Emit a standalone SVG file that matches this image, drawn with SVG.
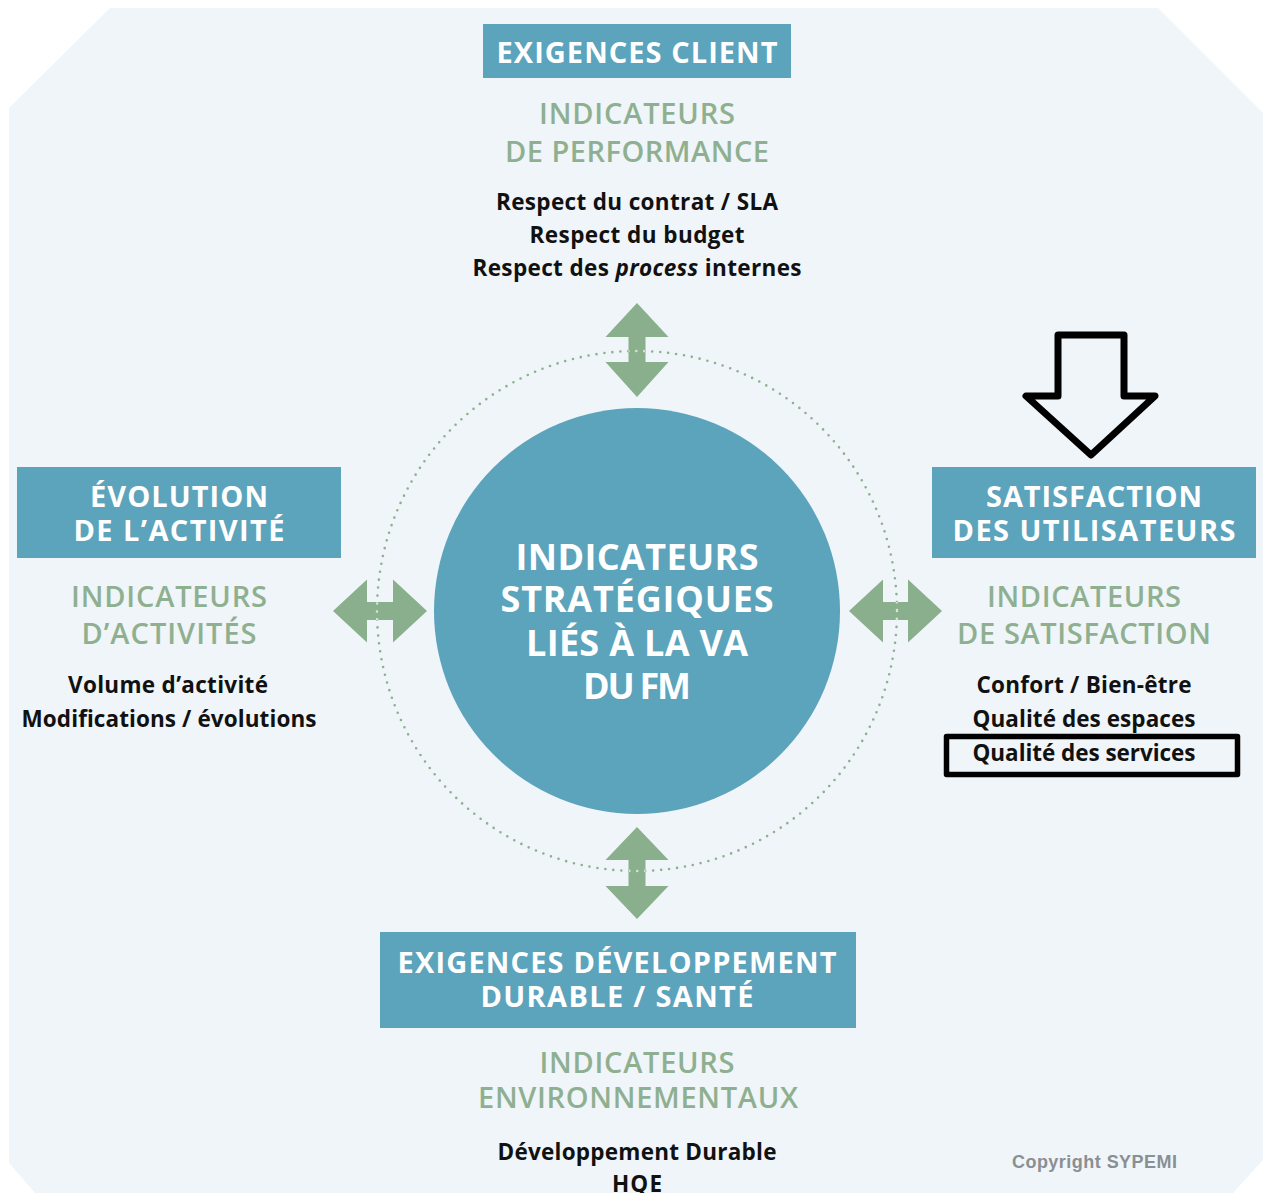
<svg xmlns="http://www.w3.org/2000/svg" width="1263" height="1193" viewBox="0 0 1263 1193">
  <style>
    .box { fill: #5ca3bc; }
    .boxText { font-family: "Open Sans", "Liberation Sans", sans-serif; font-weight: 700; font-size: 29px; fill: #ffffff; text-anchor: middle; }
    .coreText { font-family: "Open Sans", "Liberation Sans", sans-serif; font-weight: 700; font-size: 36px; fill: #ffffff; text-anchor: middle; }
    .kpi { font-family: "Open Sans", "Liberation Sans", sans-serif; font-weight: 600; font-size: 29px; fill: #8fb090; text-anchor: middle; }
    .item { font-family: "Open Sans", "Liberation Sans", sans-serif; font-weight: 700; font-size: 22.5px; fill: #111111; text-anchor: middle; }
    .arrow { fill: #8aaf8c; }
    .ring { fill: none; stroke: #8fb090; stroke-width: 2.6; stroke-linecap: round; stroke-dasharray: 0 8; }
    .ringLight { fill: none; stroke: #d6e4d6; stroke-width: 2.6; stroke-linecap: round; stroke-dasharray: 0 8; }
    .mark { fill: none; stroke: #000000; stroke-linejoin: round; }
  </style>
  <defs>
    <path id="arrowTop" d="M637,303 L668.5,337 L645.5,337 L645.5,362 L668.5,362 L637,397 L605.5,362 L628.5,362 L628.5,337 L605.5,337 Z"/>
    <path id="arrowBottom" d="M637,827 L668.5,860 L645.5,860 L645.5,886 L668.5,886 L637,919 L605.5,886 L628.5,886 L628.5,860 L605.5,860 Z"/>
    <path id="arrowLeft" d="M333,611 L367,579.5 L367,602 L393,602 L393,579.5 L427,611 L393,642.5 L393,620 L367,620 L367,642.5 Z"/>
    <path id="arrowRight" d="M849,611 L883,579.5 L883,602 L908,602 L908,579.5 L942,611 L908,642.5 L908,620 L883,620 L883,642.5 Z"/>
    <clipPath id="arrowClip">
      <use href="#arrowTop"/>
      <use href="#arrowBottom"/>
      <use href="#arrowLeft"/>
      <use href="#arrowRight"/>
    </clipPath>
  </defs>

  <!-- page -->
  <rect x="0" y="0" width="1263" height="1193" fill="#ffffff"/>
  <path d="M110,8 L1158,8 L1263,113 L1263,1160 L1233,1193 L35,1193 L9,1163 L9,108 Z" fill="#eff5f8"/>

  <!-- connectors: dotted ring and double arrows -->
  <g id="connectors">
    <circle class="ring" cx="637" cy="611" r="260"/>
    <use href="#arrowTop" class="arrow"/>
    <use href="#arrowBottom" class="arrow"/>
    <use href="#arrowLeft" class="arrow"/>
    <use href="#arrowRight" class="arrow"/>
    <circle class="ringLight" cx="637" cy="611" r="260" clip-path="url(#arrowClip)"/>
  </g>

  <!-- centre -->
  <g id="core">
    <circle cx="637" cy="611" r="203" fill="#5ca3bc"/>
    <text class="coreText" x="637" y="570" textLength="243">INDICATEURS</text>
    <text class="coreText" x="637" y="612" textLength="273">STRATÉGIQUES</text>
    <text class="coreText" x="637" y="656" textLength="222">LIÉS À LA VA</text>
    <text class="coreText" x="637" y="699" textLength="108">DU FM</text>
  </g>

  <!-- top: client requirements -->
  <g id="client">
    <rect class="box" x="483" y="24" width="308" height="54"/>
    <text class="boxText" x="637" y="63" textLength="281">EXIGENCES CLIENT</text>
    <text class="kpi" x="637" y="124" textLength="196">INDICATEURS</text>
    <text class="kpi" x="637" y="162" textLength="264">DE PERFORMANCE</text>
    <text class="item" x="637" y="210" textLength="282">Respect du contrat / SLA</text>
    <text class="item" x="637" y="243" textLength="215">Respect du budget</text>
    <text class="item" x="637" y="276" textLength="329">Respect des <tspan font-style="italic">process</tspan> internes</text>
  </g>

  <!-- left: activity -->
  <g id="activity">
    <rect class="box" x="17" y="467" width="324" height="91"/>
    <text class="boxText" x="179" y="507" textLength="178">ÉVOLUTION</text>
    <text class="boxText" x="179" y="541" textLength="211">DE L’ACTIVITÉ</text>
    <text class="kpi" x="169" y="607" textLength="196">INDICATEURS</text>
    <text class="kpi" x="169" y="644" textLength="175">D’ACTIVITÉS</text>
    <text class="item" x="168" y="693" textLength="200">Volume d’activité</text>
    <text class="item" x="169" y="727" textLength="295">Modifications / évolutions</text>
  </g>

  <!-- right: user satisfaction -->
  <g id="satisfaction">
    <rect class="box" x="932" y="467" width="324" height="91"/>
    <text class="boxText" x="1094" y="507" textLength="216">SATISFACTION</text>
    <text class="boxText" x="1094" y="541" textLength="283">DES UTILISATEURS</text>
    <text class="kpi" x="1084" y="607" textLength="194">INDICATEURS</text>
    <text class="kpi" x="1084" y="644" textLength="254">DE SATISFACTION</text>
    <text class="item" x="1084" y="693" textLength="215">Confort / Bien-être</text>
    <text class="item" x="1084" y="727" textLength="223">Qualité des espaces</text>
    <text class="item" x="1084" y="761" textLength="223">Qualité des services</text>
  </g>

  <!-- highlight marks -->
  <g id="highlight">
    <path class="mark" stroke-width="7" d="M1058,335 L1124,335 L1124,396 L1155,396 L1091,455 L1026,396 L1058,396 Z"/>
    <rect class="mark" stroke-width="5.5" x="946.5" y="736.5" width="291" height="38"/>
  </g>

  <!-- bottom: sustainability -->
  <g id="sustainability">
    <rect class="box" x="380" y="932" width="476" height="96"/>
    <text class="boxText" x="617" y="973" textLength="439">EXIGENCES DÉVELOPPEMENT</text>
    <text class="boxText" x="617" y="1007" textLength="273">DURABLE / SANTÉ</text>
    <text class="kpi" x="637" y="1073" textLength="195">INDICATEURS</text>
    <text class="kpi" x="638" y="1108" textLength="320">ENVIRONNEMENTAUX</text>
    <text class="item" x="637" y="1160" textLength="279">Développement Durable</text>
    <text class="item" x="637" y="1192" textLength="50">HQE</text>
  </g>

  <text x="1012" y="1168" font-family="Liberation Sans, Arial, sans-serif" font-weight="700" font-size="18" fill="#8a8f94" textLength="165">Copyright SYPEMI</text>
</svg>
